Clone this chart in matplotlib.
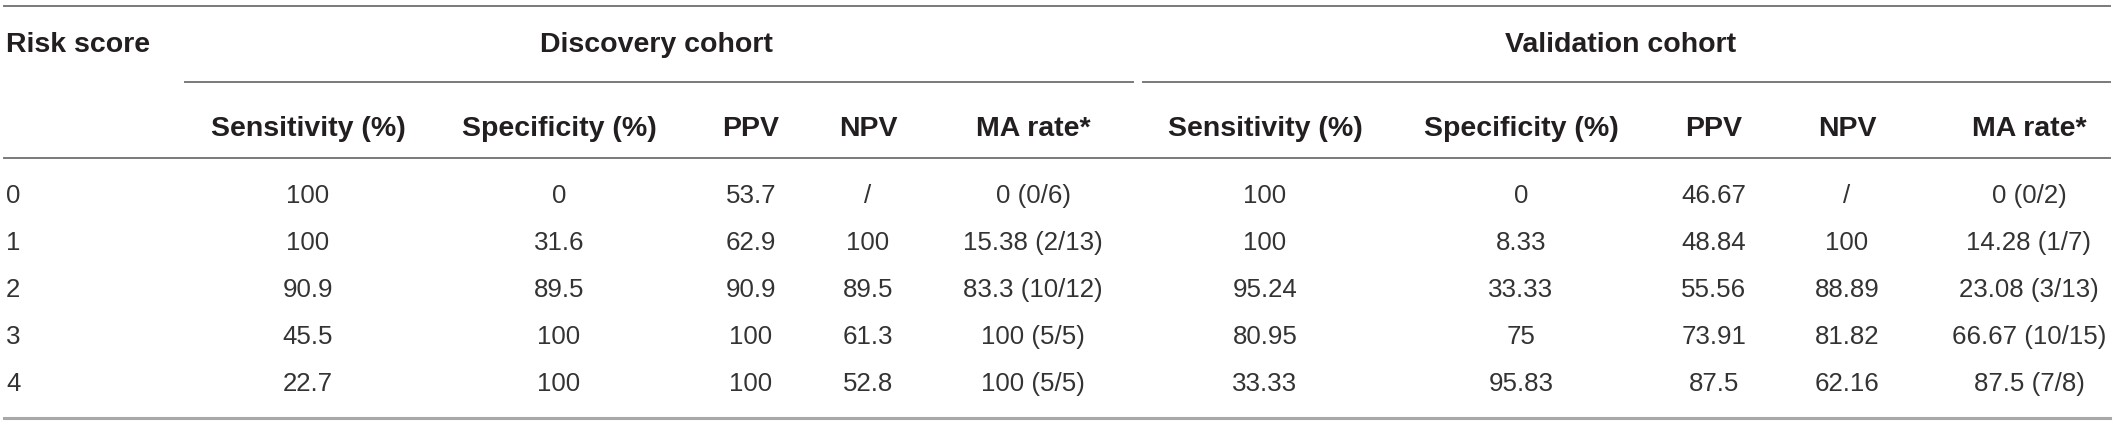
import matplotlib.pyplot as plt

# table content
risk_scores = ["0", "1", "2", "3", "4"]
col_headers = ["Sensitivity (%)", "Specificity (%)", "PPV", "NPV", "MA rate*",
               "Sensitivity (%)", "Specificity (%)", "PPV", "NPV", "MA rate*"]
cohorts = ["Discovery cohort", "Validation cohort"]

disc_sens = ["100", "100", "90.9", "45.5", "22.7"]
disc_spec = ["0", "31.6", "89.5", "100", "100"]
disc_ppv = ["53.7", "62.9", "90.9", "100", "100"]
disc_npv = ["/", "100", "89.5", "61.3", "52.8"]
disc_ma = ["0 (0/6)", "15.38 (2/13)", "83.3 (10/12)", "100 (5/5)", "100 (5/5)"]

val_sens = ["100", "100", "95.24", "80.95", "33.33"]
val_spec = ["0", "8.33", "33.33", "75", "95.83"]
val_ppv = ["46.67", "48.84", "55.56", "73.91", "87.5"]
val_npv = ["/", "100", "88.89", "81.82", "62.16"]
val_ma = ["0 (0/2)", "14.28 (1/7)", "23.08 (3/13)", "66.67 (10/15)", "87.5 (7/8)"]

columns = [disc_sens, disc_spec, disc_ppv, disc_npv, disc_ma,
           val_sens, val_spec, val_ppv, val_npv, val_ma]

# layout in pixels
W, H = 2117, 425
col_x = [308, 559, 751, 868, 1033, 1265, 1521, 1714, 1847, 2029]
cohort_x = [656, 1621]
row_y = [196, 243, 290, 337, 384]

plt.rcParams['font.family'] = ['Liberation Sans', 'DejaVu Sans']

fig = plt.figure(figsize=(W / 100, H / 100), dpi=100)
ax = fig.add_axes([0, 0, 1, 1])
ax.set_xlim(0, W)
ax.set_ylim(H, 0)
ax.axis('off')

line_c = '#7a7a7a'
ax.plot([4, 2110], [6, 6], color=line_c, lw=1.4)
ax.plot([185, 1133], [82, 82], color=line_c, lw=1.4)
ax.plot([1143, 2110], [82, 82], color=line_c, lw=1.4)
ax.plot([4, 2110], [158, 158], color=line_c, lw=1.4)
ax.plot([4, 2110], [418, 418], color='#a8a8a8', lw=2.2)

head = dict(fontsize=20.5, fontweight='bold', color='#231f20')
ax.text(6, 52, "Risk score", ha='left', va='baseline', **head)
for x, name in zip(cohort_x, cohorts):
    ax.text(x, 52, name, ha='center', va='baseline', **head)
for x, name in zip(col_x, col_headers):
    ax.text(x, 136, name, ha='center', va='baseline', **head)

body = dict(fontsize=18.6, color='#333333')
for y, rs in zip(row_y, risk_scores):
    ax.text(6, y, rs, ha='left', va='center', **body)
for x, vals in zip(col_x, columns):
    for y, v in zip(row_y, vals):
        ax.text(x, y, v, ha='center', va='center', **body)

fig.savefig('out.png', dpi=100)
